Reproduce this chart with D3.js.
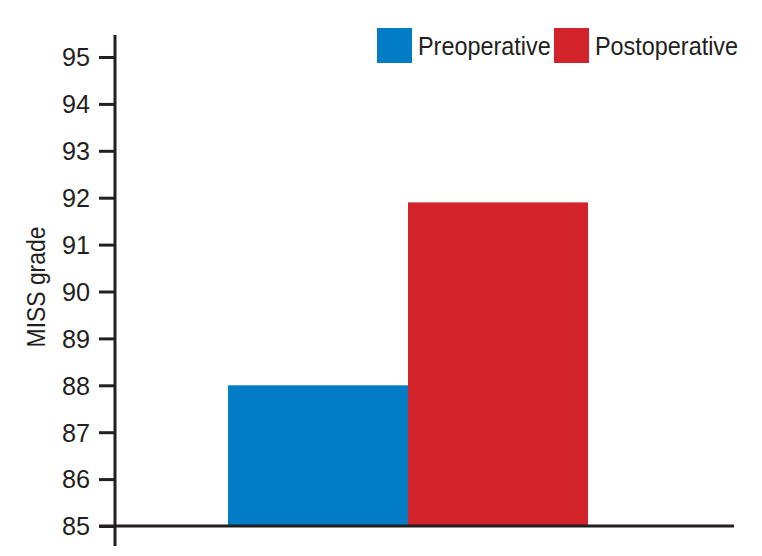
<!DOCTYPE html>
<html>
<head>
<meta charset="utf-8">
<script src="https://cdn.jsdelivr.net/npm/d3@7"></script>
<style>
  body { margin: 0; background: #fff; }
  svg text { font-family: "Liberation Sans Narrow", "Liberation Sans", Arial, sans-serif; fill: #231f20; }
</style>
</head>
<body>
<svg id="chart" width="762" height="556"></svg>
<script>
// data
var groups = ["MISS"]
var series = ["Preoperative", "Postoperative"]
var values = [88.0, 91.9]
var colors = ["#007dc5", "#d2232a"]
var yTicks = [85, 86, 87, 88, 89, 90, 91, 92, 93, 94, 95]

var svg = d3.select("#chart")
var ink = "#231f20"

// squeeze text a little, the original uses a condensed face
function condense(sel, k) {
    sel.each(function () {
        var w = this.getComputedTextLength()
        d3.select(this)
            .attr("textLength", w * k)
            .attr("lengthAdjust", "spacingAndGlyphs")
    })
}

var y = d3.scaleLinear()
    .domain([85, 95])
    .range([526, 57])

var x0 = d3.scaleBand()
    .domain(groups)
    .range([115, 701])
    .paddingInner(0)
    .paddingOuter(0.314)

var x1 = d3.scaleBand()
    .domain(series)
    .range([0, x0.bandwidth()])
    .padding(0)

var color = d3.scaleOrdinal()
    .domain(series)
    .range(colors)

// bars
svg.append("g")
    .selectAll("g")
    .data(groups)
    .enter()
    .append("g")
    .attr("transform", function (d) { return "translate(" + x0(d) + ",0)" })
    .selectAll("rect")
    .data(series.map(function (s, i) { return { key: s, value: values[i] } }))
    .enter()
    .append("rect")
    .attr("x", function (d) { return x1(d.key) })
    .attr("width", x1.bandwidth())
    .attr("y", function (d) { return y(d.value) })
    .attr("height", function (d) { return y(85) - y(d.value) })
    .style("fill", function (d) { return color(d.key) })

// y axis
var yAxis = svg.append("g")
    .attr("transform", "translate(115,0)")
    .call(d3.axisLeft(y).tickValues(yTicks).tickSize(16).tickPadding(9).tickFormat(d3.format("d")))

yAxis.select(".domain").remove()
yAxis.selectAll(".tick line")
    .style("stroke", ink)
    .style("stroke-width", 3)
yAxis.selectAll(".tick text")
    .style("font-size", "26px")
    .style("fill", ink)
    .attr("dy", "0.34em")
    .call(condense, 0.97)

svg.append("line")
    .attr("x1", 115).attr("x2", 115)
    .attr("y1", 35).attr("y2", 546)
    .style("stroke", ink)
    .style("stroke-width", 3)

// x axis line
svg.append("line")
    .attr("x1", 99).attr("x2", 734)
    .attr("y1", y(85)).attr("y2", y(85))
    .style("stroke", ink)
    .style("stroke-width", 3)

// y label
svg.append("text")
    .attr("transform", "translate(45," + 287 + ") rotate(-90)")
    .attr("text-anchor", "middle")
    .style("font-size", "26px")
    .text("MISS grade")
    .call(condense, 0.88)

// legend
var legendX = [377, 554]
var legend = svg.append("g")
    .selectAll("g")
    .data(series)
    .enter()
    .append("g")
    .attr("transform", function (d, i) { return "translate(" + legendX[i] + ",28)" })

legend.append("rect")
    .attr("width", 35)
    .attr("height", 35)
    .style("fill", function (d) { return color(d) })

legend.append("text")
    .attr("x", 41)
    .attr("y", 27)
    .style("font-size", "26px")
    .text(function (d) { return d })
    .call(condense, 0.9)
</script>
</body>
</html>
